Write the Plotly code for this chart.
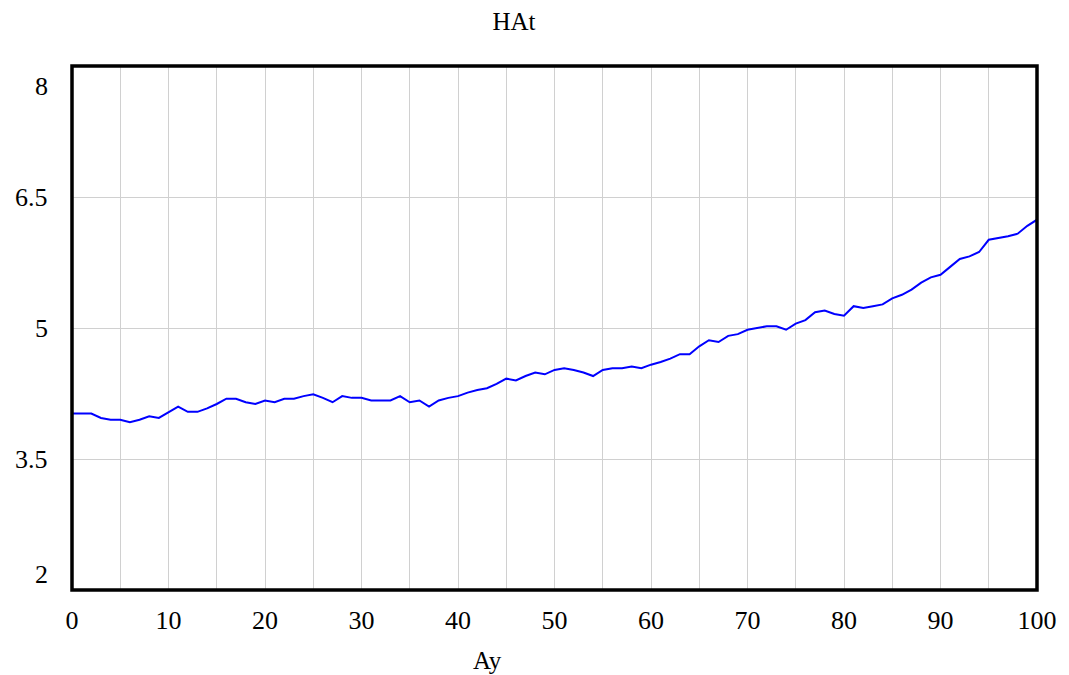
import plotly.graph_objects as go

# Yearly values of HAt over the 100-year horizon
years = list(range(0, 101))
hat = [
    4.02, 4.02, 4.02, 3.97, 3.95, 3.95, 3.92, 3.95, 3.99, 3.97,
    4.04, 4.10, 4.04, 4.04, 4.08, 4.13, 4.19, 4.19, 4.15, 4.13,
    4.17, 4.15, 4.19, 4.19, 4.22, 4.24, 4.20, 4.15, 4.22, 4.20,
    4.20, 4.17, 4.17, 4.17, 4.22, 4.15, 4.17, 4.10, 4.17, 4.20,
    4.22, 4.26, 4.29, 4.31, 4.36, 4.42, 4.40, 4.45, 4.49, 4.47,
    4.52, 4.54, 4.52, 4.49, 4.45, 4.52, 4.54, 4.54, 4.56, 4.54,
    4.58, 4.61, 4.65, 4.70, 4.70, 4.79, 4.86, 4.84, 4.91, 4.93,
    4.98, 5.00, 5.02, 5.02, 4.98, 5.05, 5.09, 5.18, 5.20, 5.16,
    5.14, 5.25, 5.23, 5.25, 5.27, 5.34, 5.38, 5.44, 5.52, 5.58,
    5.61, 5.70, 5.79, 5.82, 5.87, 6.01, 6.03, 6.05, 6.08, 6.17,
    6.24,
]

y_ticks = [2, 3.5, 5, 6.5, 8]
y_tick_text = ["2", "3.5", "5", "6.5", "8"]
x_ticks = [0, 10, 20, 30, 40, 50, 60, 70, 80, 90, 100]

FONT = "Liberation Serif"
GRID = "#d0d0d0"
TICK_SIZE = 26
TITLE_SIZE = 25

fig = go.Figure()
fig.add_trace(go.Scatter(
    x=years, y=hat, mode="lines",
    line=dict(color="#0000ff", width=2),
    showlegend=False,
))

fig.update_layout(
    width=1069, height=675,
    margin=dict(l=72, r=32, t=66, b=85),
    paper_bgcolor="white", plot_bgcolor="white",
    font=dict(family=FONT, color="black"),
    title=dict(text="HAt", x=514 / 1069, xanchor="center", y=1 - 21 / 675,
               yanchor="middle", font=dict(family=FONT, size=TITLE_SIZE, color="black")),
)

fig.update_xaxes(
    range=[0, 100], tickvals=x_ticks, ticks="", showline=False, zeroline=False,
    showgrid=True, gridcolor=GRID, gridwidth=1,
    minor=dict(dtick=5, tick0=0, showgrid=True, gridcolor=GRID, gridwidth=1, ticks=""),
    tickfont=dict(family=FONT, size=TICK_SIZE, color="black"),
    ticklabelstandoff=12,
)
fig.update_yaxes(
    range=[2, 8], tickvals=[3.5, 5, 6.5], showticklabels=False, ticks="",
    showline=False, zeroline=False, showgrid=True, gridcolor=GRID, gridwidth=1,
)

# Value-axis labels; the end labels sit just inside the frame
shifts = {2: 16, 8: -20}
for v, t in zip(y_ticks, y_tick_text):
    fig.add_annotation(
        x=0, xref="paper", y=v, yref="y", text=t, showarrow=False,
        xanchor="right", yanchor="middle", xshift=-22, yshift=shifts.get(v, 0),
        font=dict(family=FONT, size=TICK_SIZE, color="black"),
    )

# Horizontal axis title
fig.add_annotation(
    x=(487 - 72) / 965, xref="paper", y=-(660 - 590) / 524, yref="paper",
    text="Ay", showarrow=False, xanchor="center", yanchor="middle",
    font=dict(family=FONT, size=TITLE_SIZE, color="black"),
)

# Heavy frame round the plot area
fig.add_shape(type="rect", xref="paper", yref="paper", x0=0, x1=1, y0=0, y1=1,
              line=dict(color="black", width=3.5), layer="above")

fig.write_html("out.html")
